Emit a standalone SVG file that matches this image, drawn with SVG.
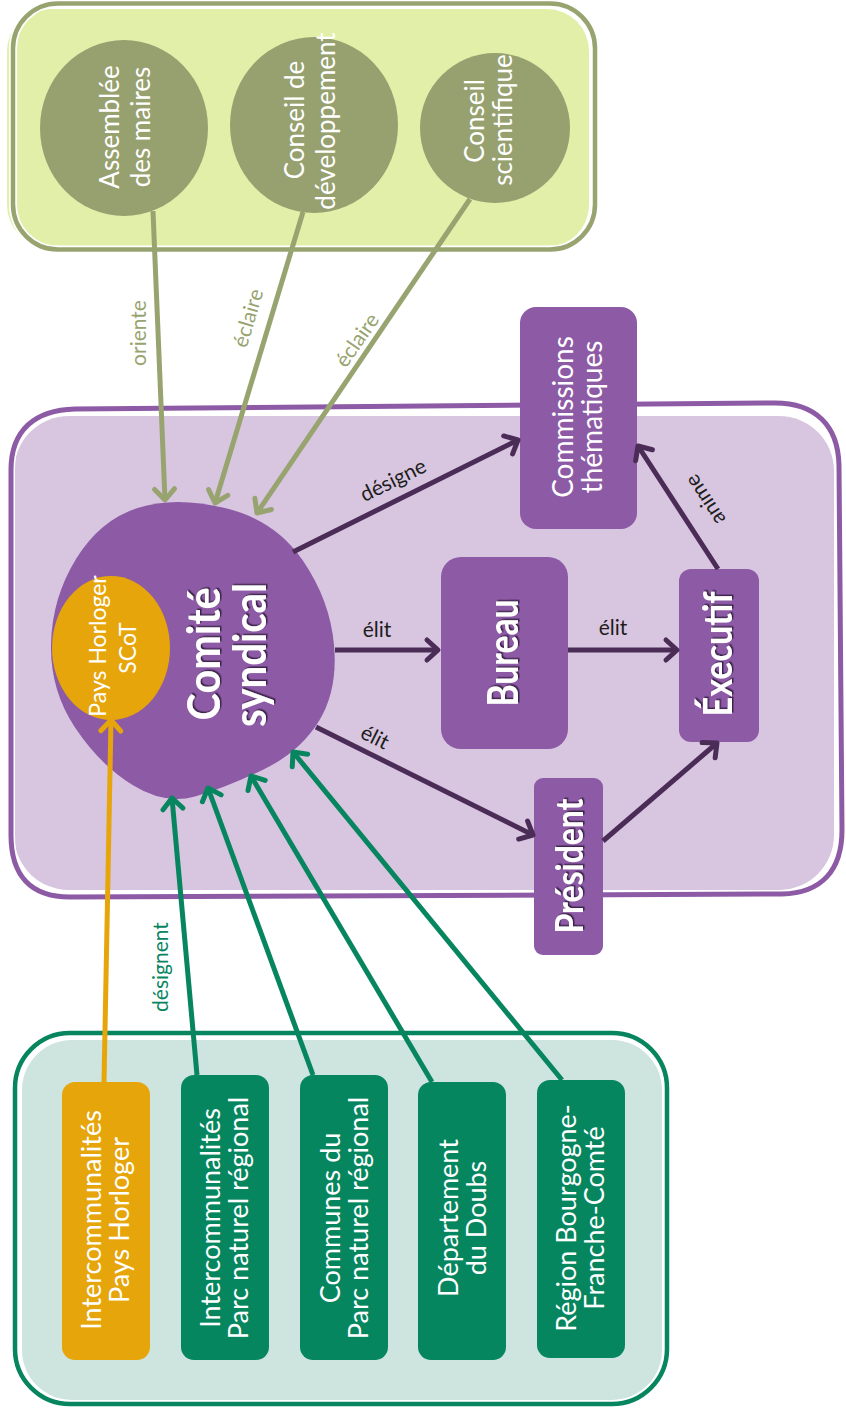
<svg xmlns="http://www.w3.org/2000/svg" width="846" height="1413" viewBox="0 0 846 1413">
<style>
text{font-family:Lato,"Open Sans","Liberation Sans",sans-serif}
.w{fill:#ffffff}
.n26{font-size:26px}
.n27{font-size:27px}
.b{font-weight:700}
.lbl{font-size:21px;fill:#1d1d1b}
.lo{font-size:21px;fill:#98a470}
.lg{font-size:21px;fill:#07855f}
.ol{fill:#97a170}
.pu{fill:#8d5aa6}
.tl{fill:#06865f}
.og{fill:#e6a50b}
.cOl{stroke:#98a470}
.cDk{stroke:#4b2c57}
.cGr{stroke:#07855f}
.cOr{stroke:#e6a50b}
.con line{stroke-width:5;stroke-linecap:butt;fill:none}
.halo{fill:none;stroke:#ffffff;stroke-width:8}
</style>
<defs>
<filter id="sh" x="-10%" y="-10%" width="130%" height="130%"><feDropShadow dx="1.5" dy="1.5" stdDeviation="0.4" flood-color="#2d1638" flood-opacity="0.85"/></filter>
<marker id="aOl" viewBox="-16 -14 20 28" refX="0" refY="0" markerWidth="20" markerHeight="28" markerUnits="userSpaceOnUse" orient="auto"><path d="M-11,-10 L0,0 L-11,10" fill="none" stroke="#98a470" stroke-width="5" stroke-linecap="round" stroke-linejoin="round"/></marker>
<marker id="aDk" viewBox="-16 -14 20 28" refX="0" refY="0" markerWidth="20" markerHeight="28" markerUnits="userSpaceOnUse" orient="auto"><path d="M-11,-10 L0,0 L-11,10" fill="none" stroke="#4b2c57" stroke-width="5" stroke-linecap="round" stroke-linejoin="round"/></marker>
<marker id="aGr" viewBox="-16 -14 20 28" refX="0" refY="0" markerWidth="20" markerHeight="28" markerUnits="userSpaceOnUse" orient="auto"><path d="M-11,-10 L0,0 L-11,10" fill="none" stroke="#07855f" stroke-width="5" stroke-linecap="round" stroke-linejoin="round"/></marker>
<marker id="aOr" viewBox="-16 -14 20 28" refX="0" refY="0" markerWidth="20" markerHeight="28" markerUnits="userSpaceOnUse" orient="auto"><path d="M-11,-10 L0,0 L-11,10" fill="none" stroke="#e6a50b" stroke-width="5" stroke-linecap="round" stroke-linejoin="round"/></marker>
</defs>

<!-- containers -->
<g id="container-conseils">
<rect x="7" y="9" width="582" height="238" rx="42" fill="#e1efa9"/>
<rect class="halo" x="13" y="3.5" width="582" height="246" rx="45"/>
<rect x="13" y="3.5" width="582" height="246" rx="45" fill="none" stroke="#98a470" stroke-width="4.5"/>
</g>
<g id="container-syndicat">
<rect x="14" y="416" width="820" height="474" rx="55" fill="#d8c6e1"/>
<path class="halo" d="M 11,470 C 11,430 35,410 75,409 L 775,403 C 815,403 838,425 839,465 L 842,830 C 842,870 822,893 782,894 L 70,897 C 30,897 11,875 11,835 Z"/>
<path d="M 11,470 C 11,430 35,410 75,409 L 775,403 C 815,403 838,425 839,465 L 842,830 C 842,870 822,893 782,894 L 70,897 C 30,897 11,875 11,835 Z" fill="none" stroke="#8d5aa6" stroke-width="5"/>
</g>
<g id="container-membres">
<rect x="22" y="1040" width="640" height="360" rx="50" fill="#cde5de"/>
<rect class="halo" x="15" y="1033" width="652" height="371" rx="55"/>
<rect x="15" y="1033" width="652" height="371" rx="55" fill="none" stroke="#07855f" stroke-width="4.5"/>
</g>

<!-- top nodes -->
<g id="assemblee-maires">
<ellipse class="ol" cx="124" cy="128" rx="84" ry="88"/>
<text class="w n26" text-anchor="middle" transform="translate(119,127) rotate(-90)">Assemblée</text>
<text class="w n26" text-anchor="middle" transform="translate(150,127) rotate(-90)">des maires</text>
</g>
<g id="conseil-developpement">
<ellipse class="ol" cx="314" cy="125" rx="84" ry="88"/>
<text class="w n26" text-anchor="middle" transform="translate(304,120) rotate(-90)">Conseil de</text>
<text class="w n26" text-anchor="middle" transform="translate(335,121) rotate(-90)">développement</text>
</g>
<g id="conseil-scientifique">
<ellipse class="ol" cx="495" cy="128" rx="75" ry="75"/>
<text class="w n26" text-anchor="middle" transform="translate(484,121) rotate(-90)">Conseil</text>
<text class="w n26" text-anchor="middle" transform="translate(512,120) rotate(-90)">scientifique</text>
</g>

<!-- syndicat nodes -->
<g id="comite-syndical">
<path class="pu" d="M137.5,508 Q175,496 225,508 Q275,520 302.5,560 Q330,600 334,645 Q338,690 319,721 Q300,752 262.5,770 Q225,788 195,796.5 Q165,805 132.5,785 Q100,765 75,727.5 Q50,690 51,644 Q52,598 76,559 Q100,520 137.5,508 Z"/>
<text class="w b" font-size="45" text-anchor="middle" textLength="133" lengthAdjust="spacingAndGlyphs" filter="url(#sh)" transform="translate(220,654) rotate(-90)">Comité</text>
<text class="w b" font-size="45" text-anchor="middle" textLength="144" lengthAdjust="spacingAndGlyphs" filter="url(#sh)" transform="translate(266,655) rotate(-90)">syndical</text>
</g>
<g id="pays-horloger-scot">
<ellipse class="og" cx="111" cy="648" rx="59" ry="72"/>
<text class="w" font-size="23" text-anchor="middle" transform="translate(106,646) rotate(-90)">Pays Horloger</text>
<text class="w" font-size="23" text-anchor="middle" transform="translate(136,648) rotate(-90)">SCoT</text>
</g>
<g id="commissions">
<rect class="pu" x="520" y="307" width="117" height="222" rx="16"/>
<text class="w" font-size="28" text-anchor="middle" transform="translate(573,417) rotate(-90)">Commissions</text>
<text class="w" font-size="28" text-anchor="middle" transform="translate(602,417) rotate(-90)">thématiques</text>
</g>
<g id="bureau">
<rect class="pu" x="441" y="557" width="127" height="192" rx="20"/>
<text class="w b" font-size="42" text-anchor="middle" textLength="107" lengthAdjust="spacingAndGlyphs" filter="url(#sh)" transform="translate(518,653) rotate(-90)">Bureau</text>
</g>
<g id="executif">
<rect class="pu" x="679" y="569" width="80" height="173" rx="12"/>
<text class="w b" font-size="41" text-anchor="middle" textLength="125" lengthAdjust="spacingAndGlyphs" filter="url(#sh)" transform="translate(732,654) rotate(-90)">Éxecutif</text>
</g>
<g id="president">
<rect class="pu" x="534" y="778" width="69" height="177" rx="9"/>
<text class="w b" font-size="38" text-anchor="middle" textLength="135" lengthAdjust="spacingAndGlyphs" filter="url(#sh)" transform="translate(583,866) rotate(-90)">Président</text>
</g>

<!-- member nodes -->
<g id="interco-pays-horloger">
<rect class="og" x="62" y="1082" width="88" height="278" rx="13"/>
<text class="w n27" text-anchor="middle" transform="translate(101,1220) rotate(-90)">Intercommunalités</text>
<text class="w n27" text-anchor="middle" transform="translate(129,1220) rotate(-90)">Pays Horloger</text>
</g>
<g id="interco-pnr">
<rect class="tl" x="181" y="1075" width="88" height="285" rx="13"/>
<text class="w n27" text-anchor="middle" transform="translate(220,1218) rotate(-90)">Intercommunalités</text>
<text class="w n27" text-anchor="middle" transform="translate(248,1218) rotate(-90)">Parc naturel régional</text>
</g>
<g id="communes-pnr">
<rect class="tl" x="300" y="1075" width="88" height="285" rx="13"/>
<text class="w n27" text-anchor="middle" transform="translate(340,1218) rotate(-90)">Communes du</text>
<text class="w n27" text-anchor="middle" transform="translate(368,1218) rotate(-90)">Parc naturel régional</text>
</g>
<g id="departement-doubs">
<rect class="tl" x="418" y="1082" width="88" height="278" rx="13"/>
<text class="w n27" text-anchor="middle" transform="translate(458,1218) rotate(-90)">Département</text>
<text class="w n27" text-anchor="middle" transform="translate(486,1218) rotate(-90)">du Doubs</text>
</g>
<g id="region-bfc">
<rect class="tl" x="537" y="1080" width="88" height="278" rx="13"/>
<text class="w n27" text-anchor="middle" transform="translate(576,1218) rotate(-90)">Région Bourgogne-</text>
<text class="w n27" text-anchor="middle" transform="translate(604,1218) rotate(-90)">Franche-Comté</text>
</g>

<!-- connectors -->
<g id="connectors" class="con">
<line class="cOl" x1="153" y1="211" x2="165" y2="500" marker-end="url(#aOl)"/>
<line class="cOl" x1="303" y1="212" x2="215" y2="503" marker-end="url(#aOl)"/>
<line class="cOl" x1="470" y1="199" x2="257" y2="513" marker-end="url(#aOl)"/>
<line class="cDk" x1="293" y1="552" x2="518" y2="440" marker-end="url(#aDk)"/>
<line class="cDk" x1="335" y1="650" x2="438" y2="650" marker-end="url(#aDk)"/>
<line class="cDk" x1="316" y1="727" x2="533" y2="835" marker-end="url(#aDk)"/>
<line class="cDk" x1="568" y1="650" x2="677" y2="650" marker-end="url(#aDk)"/>
<line class="cDk" x1="603" y1="841" x2="717" y2="743" marker-end="url(#aDk)"/>
<line class="cDk" x1="718" y1="569" x2="638" y2="446" marker-end="url(#aDk)"/>
<line class="cGr" x1="197" y1="1075" x2="172" y2="798" marker-end="url(#aGr)"/>
<line class="cGr" x1="313" y1="1075" x2="208" y2="788" marker-end="url(#aGr)"/>
<line class="cGr" x1="432" y1="1082" x2="251" y2="776" marker-end="url(#aGr)"/>
<line class="cGr" x1="562" y1="1080" x2="293" y2="752" marker-end="url(#aGr)"/>
<line class="cOr" x1="104" y1="1082" x2="111" y2="720" marker-end="url(#aOr)"/>
<text class="lo" text-anchor="middle" dy="0.35em" transform="translate(139,333) rotate(-90)">oriente</text>
<text class="lo" text-anchor="middle" dy="0.35em" transform="translate(248,318) rotate(-73.6)">éclaire</text>
<text class="lo" text-anchor="middle" dy="0.35em" transform="translate(357,340) rotate(-55.3)">éclaire</text>
<text class="lbl" text-anchor="middle" dy="0.35em" transform="translate(393,480) rotate(-26.4)">désigne</text>
<text class="lbl" text-anchor="middle" dy="0.35em" x="377" y="630">élit</text>
<text class="lbl" text-anchor="middle" dy="0.35em" transform="translate(375,737) rotate(26.6)">élit</text>
<text class="lbl" text-anchor="middle" dy="0.35em" x="613" y="628">élit</text>
<text class="lbl" text-anchor="middle" dy="0.35em" transform="translate(705,500) rotate(-123)">anime</text>
<text class="lg" text-anchor="middle" dy="0.35em" transform="translate(161,967) rotate(-90)">désignent</text>
</g>
</svg>
